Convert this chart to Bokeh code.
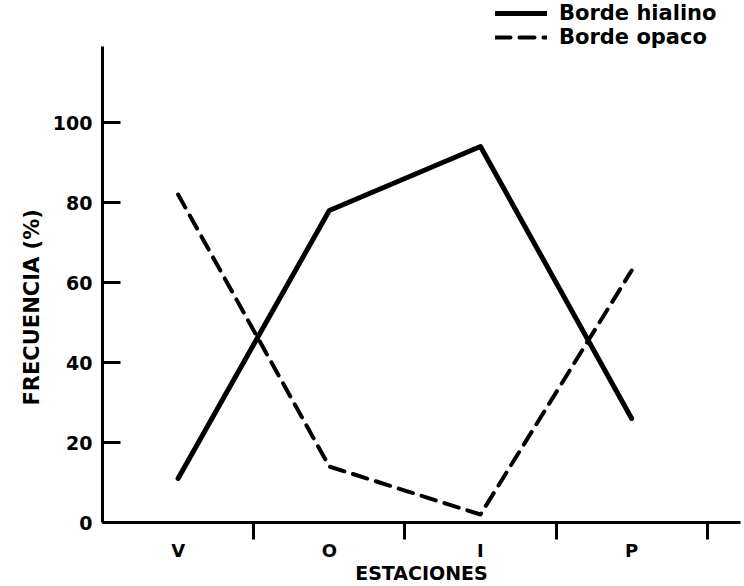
from bokeh.plotting import figure
from bokeh.models import Range1d, FixedTicker, Legend, LegendItem, Title
from bokeh.embed import file_html
from bokeh.resources import INLINE

# ---- data ----
estaciones = ["V", "O", "I", "P"]
x_pos = [1, 2, 3, 4]
borde_hialino = [11, 78, 94, 26]
borde_opaco = [82, 14, 2, 63]
y_ticks = [0, 20, 40, 60, 80, 100]
y_axis_extent = (0, 119)
sep_ticks = [1.5, 2.5, 3.5, 4.5]
series_names = ["Borde hialino", "Borde opaco"]
x_title = "ESTACIONES"
y_title = "FRECUENCIA (%)"

FONT = "DejaVu Sans"

p = figure(width=744, height=586, output_backend="svg", toolbar_location=None,
           x_range=Range1d(0.5, 4.72), y_range=Range1d(0, 130.5),
           min_border_left=102, min_border_right=4, min_border_top=0,
           min_border_bottom=64)
p.outline_line_color = None
p.grid.visible = False
p.background_fill_color = "white"

r1 = p.line(x_pos, borde_hialino, line_width=5, line_color="black",
            line_join="round", line_cap="round")
r2 = p.line(x_pos, borde_opaco, line_width=4, line_color="black",
            line_dash="15 9", line_join="round", line_cap="round")

# y axis
ya = p.yaxis[0]
ya.ticker = FixedTicker(ticks=y_ticks)
ya.bounds = y_axis_extent
ya.axis_line_width = 3
ya.major_tick_line_width = 3
ya.major_tick_in = 18
ya.major_tick_out = 0
ya.minor_tick_in = 0
ya.minor_tick_out = 0
ya.major_label_standoff = 10
ya.major_label_text_font = FONT
ya.major_label_text_font_style = "bold"
ya.major_label_text_font_size = "19px"
ya.major_label_text_color = "black"

ytitle = Title(text=y_title, align="left", offset=117, standoff=12,
               text_font=FONT, text_font_style="bold", text_font_size="21px",
               text_color="black")
p.add_layout(ytitle, "left")

# x axis
xa = p.xaxis[0]
overrides = {}
for xp, lab in zip(x_pos, estaciones):
    overrides[xp] = lab
    overrides[str(xp)] = lab
xa.ticker = FixedTicker(ticks=x_pos, minor_ticks=sep_ticks)
xa.major_label_overrides = overrides
xa.axis_line_width = 3
xa.major_tick_in = 0
xa.major_tick_out = 0
xa.minor_tick_in = 0
xa.minor_tick_out = 17
xa.minor_tick_line_width = 3
xa.minor_tick_line_color = "black"
xa.major_label_standoff = 0
xa.major_label_text_font = FONT
xa.major_label_text_font_style = "bold"
xa.major_label_text_font_size = "18px"
xa.major_label_text_color = "black"
xa.axis_label = x_title
xa.axis_label_text_font = FONT
xa.axis_label_text_font_style = "bold"
xa.axis_label_text_font_size = "19px"
xa.axis_label_text_color = "black"
xa.axis_label_standoff = -2

legend = Legend(items=[LegendItem(label=series_names[0], renderers=[r1]),
                       LegendItem(label=series_names[1], renderers=[r2])],
                location=(393, 473), padding=0, margin=0,
                border_line_alpha=0, background_fill_alpha=0,
                glyph_width=52, glyph_height=20, label_height=20,
                spacing=0, label_standoff=12,
                label_text_font=FONT, label_text_font_style="bold",
                label_text_font_size="21px", label_text_color="black")
p.add_layout(legend, "center")

open("out.html", "w").write(file_html(p, INLINE))
